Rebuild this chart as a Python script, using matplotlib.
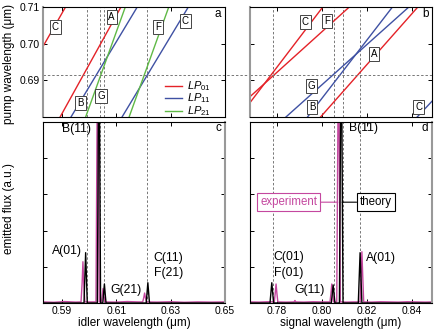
import matplotlib
matplotlib.use("Agg")
import matplotlib.pyplot as plt

plt.rcParams['font.family'] = ['Liberation Sans', 'DejaVu Sans']
plt.rcParams['mathtext.fontset'] = 'custom'
plt.rcParams['mathtext.it'] = 'Liberation Sans:italic'
plt.rcParams['mathtext.rm'] = 'Liberation Sans'

RED, BLUE, GREEN = '#e42228', '#3f51a3', '#5fb946'
MAGENTA = '#c4479f'
GRAY = '#999999'

# ---------------- data ----------------
pump_lim = (0.68, 0.71)
idler_lim = (0.583, 0.65)
signal_lim = (0.768, 0.849)
pump_line = 0.6915

idler_ticks = [0.59, 0.61, 0.63, 0.65]
signal_ticks = [0.78, 0.80, 0.82, 0.84]
pump_ticks = [0.69, 0.70, 0.71]

# phase matching curves (idler / signal vs pump), endpoints
idler_curves = [  # (x0, x1), (y0, y1), colour
    ((0.5832, 0.5913), (0.6995, 0.71), RED),
    ((0.5893, 0.6117), (0.68, 0.71), RED),
    ((0.5933, 0.6177), (0.68, 0.71), BLUE),
    ((0.5987, 0.6133), (0.68, 0.71), GREEN),
    ((0.6121, 0.6365), (0.68, 0.71), BLUE),
    ((0.6147, 0.6293), (0.68, 0.71), GREEN),
]
signal_curves = [
    ((0.7681, 0.8004), (0.684, 0.71), RED),
    ((0.7681, 0.8122), (0.6856, 0.71), RED),
    ((0.7840, 0.8387), (0.68, 0.71), BLUE),
    ((0.7936, 0.8314), (0.68, 0.71), BLUE),
    ((0.7994, 0.8427), (0.68, 0.71), RED),
    ((0.8424, 0.8490), (0.68, 0.6843), BLUE),
]
idler_tags = [('C', 0.58745, 0.70444), ('A', 0.60829, 0.70727), ('F', 0.62538, 0.70455),
              ('C', 0.63535, 0.70607), ('B', 0.59680, 0.68382), ('G', 0.60444, 0.68562)]
signal_tags = [('C', 0.79267, 0.70591), ('F', 0.80221, 0.70607), ('A', 0.82327, 0.69718),
               ('G', 0.79532, 0.68854), ('B', 0.79558, 0.68273), ('C', 0.84313, 0.68273)]

idler_marks = [0.5991, 0.6038, 0.6056, 0.6213]
signal_marks = [0.7784, 0.8052, 0.8093, 0.8170]

# spectra
idler_theory_x = [0.583, 0.5981, 0.5984, 0.5987, 0.5990, 0.5993, 0.6030, 0.6033, 0.6036, 0.6039,
                  0.6042, 0.6050, 0.6053, 0.6056, 0.6059, 0.6062, 0.6210, 0.6213, 0.6216, 0.6219,
                  0.6222, 0.650]
idler_theory_y = [0, 0, 0.14, 0.278, 0.14, 0, 0, 0.8, 1.6, 0.8,
                  0, 0, 0.05, 0.105, 0.05, 0, 0, 0.056, 0.112, 0.056,
                  0, 0]
idler_exp_x = [0.583, 0.587, 0.591, 0.595, 0.5970, 0.5974, 0.5977, 0.5980, 0.5984, 0.6025,
               0.6028, 0.6031, 0.6034, 0.6037, 0.6045, 0.6048, 0.6051, 0.6054, 0.6057, 0.610,
               0.614, 0.618, 0.6197, 0.6201, 0.6204, 0.6207, 0.6211, 0.625, 0.630, 0.635,
               0.640, 0.645, 0.650]
idler_exp_y = [0.006, 0.004, 0.008, 0.005, 0.006, 0.11, 0.228, 0.11, 0.006, 0.006,
               0.75, 1.5, 0.75, 0.006, 0.006, 0.04, 0.08, 0.04, 0.006, 0.005,
               0.008, 0.006, 0.006, 0.03, 0.055, 0.03, 0.006, 0.005, 0.007, 0.004,
               0.006, 0.005, 0.006]
signal_theory_x = [0.768, 0.7769, 0.7773, 0.7777, 0.7781, 0.7785, 0.8042, 0.8046, 0.8050, 0.8054,
                   0.8058, 0.8078, 0.8082, 0.8086, 0.8090, 0.8094, 0.8162, 0.8166, 0.8170, 0.8174,
                   0.8178, 0.849]
signal_theory_y = [0, 0, 0.056, 0.112, 0.056, 0, 0, 0.05, 0.10, 0.05,
                   0, 0, 0.8, 1.6, 0.8, 0, 0, 0.139, 0.278, 0.139,
                   0, 0]
signal_exp_x = [0.768, 0.772, 0.776, 0.7788, 0.7792, 0.7796, 0.7800, 0.7804, 0.784, 0.7876,
                0.788, 0.7884, 0.792, 0.796, 0.800, 0.8036, 0.8040, 0.8044, 0.8048, 0.8052,
                0.8066, 0.8070, 0.8074, 0.8078, 0.8082, 0.8110, 0.8140, 0.8170, 0.8174, 0.8178,
                0.8182, 0.8186, 0.822, 0.826, 0.830, 0.834, 0.838, 0.842, 0.846, 0.849]
signal_exp_y = [0.006, 0.005, 0.007, 0.006, 0.05, 0.105, 0.05, 0.006, 0.005, 0.006,
                0.014, 0.006, 0.005, 0.007, 0.006, 0.006, 0.05, 0.105, 0.05, 0.006,
                0.006, 0.75, 1.5, 0.75, 0.006, 0.005, 0.006, 0.006, 0.14, 0.283,
                0.14, 0.006, 0.005, 0.007, 0.006, 0.005, 0.007, 0.006, 0.005, 0.006]

idler_notes = [('B(11)', 0.59545, 0.961), ('A(01)', 0.5917, 0.289), ('G(21)', 0.61353, 0.072),
               ('C(11)', 0.62927, 0.247), ('F(21)', 0.62927, 0.164)]
signal_notes = [('B(11)', 0.81860, 0.965), ('C(01)', 0.7853, 0.2525), ('F(01)', 0.7853, 0.167),
                ('G(11)', 0.79457, 0.072), ('A(01)', 0.82622, 0.247)]

# ---------------- figure ----------------
W, H = 436, 334
fig = plt.figure(figsize=(W / 100, H / 100), dpi=100)

def rect(l, t, r, b):
    return [l / W, 1 - b / H, (r - l) / W, (b - t) / H]

ax_a = fig.add_axes(rect(43, 7, 225, 117))
ax_b = fig.add_axes(rect(250, 7, 432, 117))
ax_c = fig.add_axes(rect(43, 122, 225, 303))
ax_d = fig.add_axes(rect(250, 122, 432, 303))

dash = (0, (2.5, 2))
for ax in (ax_a, ax_b, ax_c, ax_d):
    ax.tick_params(direction='in', length=3, width=0.7, top=True, right=True,
                   labelsize=7.5, pad=2)
    for s in ax.spines.values():
        s.set_linewidth(0.8)

# top panels
for ax, curves, tags, marks, xl, xt in ((ax_a, idler_curves, idler_tags, idler_marks, idler_lim, idler_ticks),
                                        (ax_b, signal_curves, signal_tags, signal_marks, signal_lim, signal_ticks)):
    for (xs, ys, c) in curves:
        ax.plot(xs, ys, color=c, lw=1.0)
    for m in marks:
        ax.axvline(m, color='#777777', lw=0.7, ls=dash, zorder=0)
    for t, x, y in tags:
        ax.text(x, y, t, fontsize=7, ha='center', va='center',
                bbox=dict(boxstyle='square,pad=0.2', fc='white', ec='#444444', lw=0.7))
    ax.set_xlim(*xl)
    ax.set_ylim(*pump_lim)
    ax.set_xticks(xt)
    ax.set_xticklabels([])
    ax.set_yticks(pump_ticks)

ax_a.set_yticklabels(['0.69', '0.70', '0.71'])
ax_b.set_yticklabels([])
ax_a.axhline(pump_line, xmin=0, xmax=1.14, color='#777777', lw=0.7, ls=dash, clip_on=False)
ax_b.axhline(pump_line, color='#777777', lw=0.7, ls=dash)

# legend (drawn by hand)
for i, (lab, c) in enumerate((('$LP_{01}$', RED), ('$LP_{11}$', BLUE), ('$LP_{21}$', GREEN))):
    y = 0.282 - i * 0.113
    ax_a.plot([0.670, 0.764], [y, y], color=c, lw=1.0, transform=ax_a.transAxes)
    ax_a.text(0.79, y, lab, fontsize=8, va='center', transform=ax_a.transAxes)

# bottom panels
for ax, ex, ey, tx, ty, marks, notes, xl, xt in (
        (ax_c, idler_exp_x, idler_exp_y, idler_theory_x, idler_theory_y, idler_marks, idler_notes, idler_lim, idler_ticks),
        (ax_d, signal_exp_x, signal_exp_y, signal_theory_x, signal_theory_y, signal_marks, signal_notes, signal_lim, signal_ticks)):
    for m in marks:
        ax.axvline(m, color='#777777', lw=0.7, ls=dash, zorder=0)
    ax.plot(ex, ey, color=MAGENTA, lw=1.0)
    ax.plot(tx, ty, color='black', lw=1.0)
    for t, x, y in notes:
        ax.text(x, y, t, fontsize=8.8, ha='center', va='center')
    ax.set_xlim(*xl)
    ax.set_ylim(0, 1)
    ax.set_xticks(xt)
    ax.set_xticklabels(['%.2f' % v for v in xt])
    ax.set_yticks([0, 0.2, 0.4, 0.6, 0.8, 1.0])
    ax.set_yticklabels([])

ax_c.set_xlabel('idler wavelength (μm)', fontsize=8.5, labelpad=1)
ax_d.set_xlabel('signal wavelength (μm)', fontsize=8.5, labelpad=1)

ax_d.annotate('experiment', xy=(0.8071, 0.557), xytext=(0.7853, 0.557), color=MAGENTA,
              fontsize=8.3, ha='center', va='center',
              bbox=dict(boxstyle='square,pad=0.25', fc='white', ec=MAGENTA, lw=0.8),
              arrowprops=dict(arrowstyle='-', color=MAGENTA, lw=0.8, shrinkA=0, shrinkB=0))
ax_d.annotate('theory', xy=(0.8090, 0.557), xytext=(0.8240, 0.557), color='black',
              fontsize=8.3, ha='center', va='center',
              bbox=dict(boxstyle='square,pad=0.25', fc='white', ec='black', lw=0.8),
              arrowprops=dict(arrowstyle='-', color='black', lw=0.8, shrinkA=0, shrinkB=0))

# gray spines
for ax, side in ((ax_a, 'left'), (ax_b, 'left'), (ax_c, 'right'), (ax_d, 'right')):
    ax.spines[side].set_color(GRAY)
    ax.spines[side].set_linewidth(1.5)

# panel letters
for ax, l, y in ((ax_a, 'a', 0.936), (ax_b, 'b', 0.936), (ax_c, 'c', 0.967), (ax_d, 'd', 0.967)):
    ax.text(0.962, y, l, fontsize=8.5, ha='center', va='center', transform=ax.transAxes)

fig.text(9 / W, 1 - 64 / H, 'pump wavelength (μm)', rotation=90, fontsize=8.5, ha='center', va='center')
fig.text(9 / W, 1 - 209 / H, 'emitted flux (a.u.)', rotation=90, fontsize=8.5, ha='center', va='center')

fig.savefig('out.png', dpi=100)
